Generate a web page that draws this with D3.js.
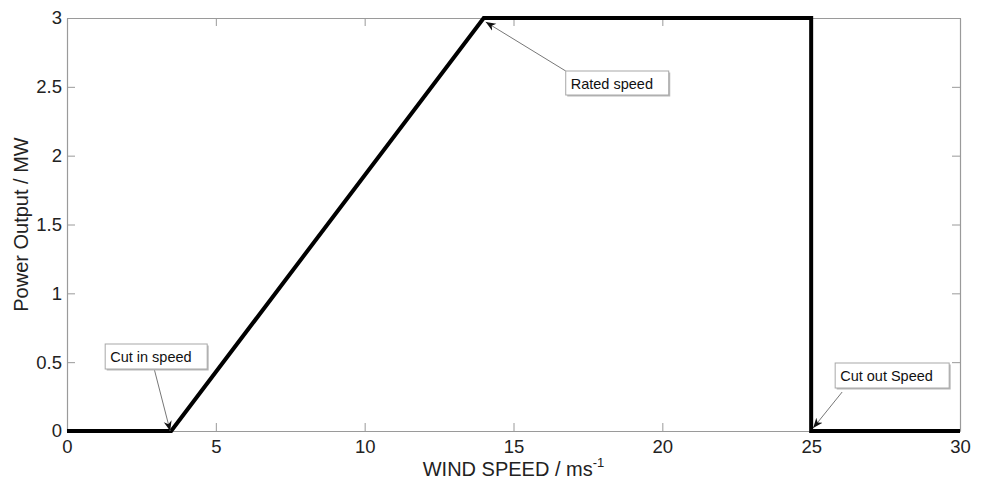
<!DOCTYPE html>
<html>
<head>
<meta charset="utf-8">
<script src="https://cdn.jsdelivr.net/npm/d3@7"></script>
<style>
  body { margin: 0; background: #fff; }
  svg { font-family: "Liberation Sans", Arial, sans-serif; }
</style>
</head>
<body>
<div id="chart"></div>
<script>
// power curve of the turbine (wind speed m/s, power MW)
const windSpeed = [0, 3.5, 14, 25, 25, 30];
const powerMW = [0, 0, 3, 3, 0, 0];

const xTicks = [0, 5, 10, 15, 20, 25, 30];
const yTicks = [0, 0.5, 1, 1.5, 2, 2.5, 3];

// annotation text and the point each arrow targets
const notes = [
  { label: "Cut in speed", x: 3.5, y: 0 },
  { label: "Rated speed", x: 14, y: 3 },
  { label: "Cut out Speed", x: 25, y: 0 }
];

const width = 982;
const height = 482;
const margin = { top: 18, right: 22, bottom: 51, left: 67 };

const svg = d3.select("#chart").append("svg")
  .attr("width", width)
  .attr("height", height);

const x = d3.scaleLinear().domain([0, 30]).range([margin.left, width - margin.right]);
const y = d3.scaleLinear().domain([0, 3]).range([height - margin.bottom, margin.top]);

const axisColor = "#9a9a9a";
const textColor = "#222";

svg.append("defs").append("marker")
  .attr("id", "arrow")
  .attr("viewBox", "0 0 10 10")
  .attr("refX", 10)
  .attr("refY", 5)
  .attr("markerWidth", 10)
  .attr("markerHeight", 10)
  .attr("markerUnits", "userSpaceOnUse")
  .attr("orient", "auto")
  .append("path")
  .attr("d", "M0,1 L10,5 L0,9 L3,5 Z")
  .attr("fill", "#111");

function styleAxis(g) {
  g.select(".domain").attr("stroke", axisColor).attr("stroke-width", 1.2);
  g.selectAll(".tick line").attr("stroke", axisColor).attr("stroke-width", 1);
  g.selectAll(".tick text").attr("fill", textColor).attr("font-size", 18.5);
}

// bottom and left axes with labels, ticks pointing inward
svg.append("g")
  .attr("transform", `translate(0,${y(0)})`)
  .call(d3.axisBottom(x).tickValues(xTicks).tickSize(-8).tickPadding(9).tickSizeOuter(0))
  .call(styleAxis)
  .call(g => g.attr("font-family", null));

svg.append("g")
  .attr("transform", `translate(${x(0)},0)`)
  .call(d3.axisLeft(y).tickValues(yTicks).tickSize(-8).tickPadding(5).tickSizeOuter(0)
    .tickFormat(d3.format("")))
  .call(styleAxis)
  .call(g => g.attr("font-family", null));

// top and right axes, ticks only
svg.append("g")
  .attr("transform", `translate(0,${y(3)})`)
  .call(d3.axisTop(x).tickValues(xTicks).tickSize(-8).tickFormat("").tickSizeOuter(0))
  .call(styleAxis);

svg.append("g")
  .attr("transform", `translate(${x(30)},0)`)
  .call(d3.axisRight(y).tickValues(yTicks).tickSize(-8).tickFormat("").tickSizeOuter(0))
  .call(styleAxis);

// axis titles
svg.append("text")
  .attr("x", (x(0) + x(30)) / 2)
  .attr("y", 476)
  .attr("text-anchor", "middle")
  .attr("font-size", 20)
  .attr("fill", textColor)
  .call(t => {
    t.append("tspan").text("WIND SPEED / ms");
    t.append("tspan").attr("dy", -9).attr("font-size", 13).text("-1");
  });

svg.append("text")
  .attr("transform", `translate(28,${(y(0) + y(3)) / 2}) rotate(-90)`)
  .attr("text-anchor", "middle")
  .attr("font-size", 20)
  .attr("fill", textColor)
  .text("Power Output / MW");

// the power curve
const line = d3.line()
  .x((d, i) => x(windSpeed[i]))
  .y((d, i) => y(powerMW[i]));

svg.append("path")
  .datum(windSpeed)
  .attr("d", line)
  .attr("fill", "none")
  .attr("stroke", "#000")
  .attr("stroke-width", 4)
  .attr("stroke-linejoin", "miter");

// annotation boxes, offsets in pixels from the target point
const boxPos = [
  { bx: -66, by: -87, bw: 102, bh: 25, sx: -18, sy: -66, tx: -1, ty: 0 },
  { bx: 82, by: 53, bw: 103, bh: 24, sx: 82, sy: 53, tx: 2, ty: 4 },
  { bx: 24, by: -68, bw: 114, bh: 25, sx: 31, sy: -39, tx: 2, ty: -3 }
];

const ann = svg.append("g")
  .selectAll("g")
  .data(notes)
  .join("g");

ann.append("line")
  .attr("x1", (d, i) => x(d.x) + boxPos[i].sx)
  .attr("y1", (d, i) => y(d.y) + boxPos[i].sy)
  .attr("x2", (d, i) => x(d.x) + boxPos[i].tx)
  .attr("y2", (d, i) => y(d.y) + boxPos[i].ty)
  .attr("stroke", "#777")
  .attr("stroke-width", 1)
  .attr("marker-end", "url(#arrow)");

// soft shadow on right/bottom edges
ann.append("rect")
  .attr("x", (d, i) => x(d.x) + boxPos[i].bx + 1.5)
  .attr("y", (d, i) => y(d.y) + boxPos[i].by + 1.5)
  .attr("width", (d, i) => boxPos[i].bw)
  .attr("height", (d, i) => boxPos[i].bh)
  .attr("fill", "#b8b8b8");

ann.append("rect")
  .attr("x", (d, i) => x(d.x) + boxPos[i].bx)
  .attr("y", (d, i) => y(d.y) + boxPos[i].by)
  .attr("width", (d, i) => boxPos[i].bw)
  .attr("height", (d, i) => boxPos[i].bh)
  .attr("fill", "#fff")
  .attr("stroke", "#a8a8a8")
  .attr("stroke-width", 1);

ann.append("text")
  .attr("x", (d, i) => x(d.x) + boxPos[i].bx + 5)
  .attr("y", (d, i) => y(d.y) + boxPos[i].by + 17.5)
  .attr("font-size", 14.5)
  .attr("fill", "#111")
  .text(d => d.label);
</script>
</body>
</html>
